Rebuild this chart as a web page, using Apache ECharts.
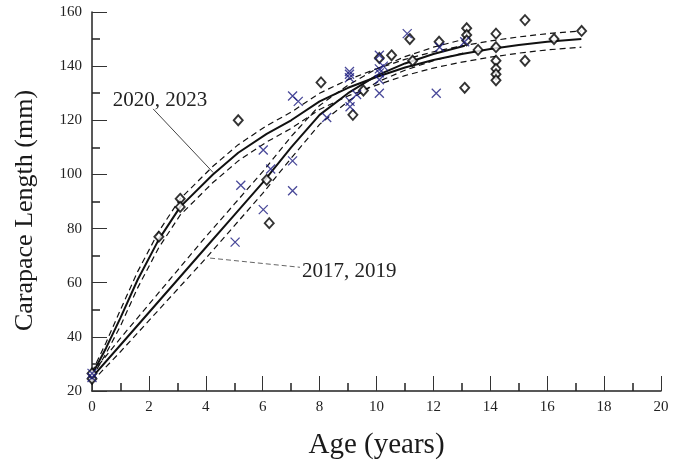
<!DOCTYPE html>
<html>
<head>
<meta charset="utf-8">
<script src="https://cdn.jsdelivr.net/npm/echarts@6/dist/echarts.min.js"></script>
<style>
  html, body { margin: 0; padding: 0; background: #fff; }
  #chart { width: 689px; height: 465px; }
</style>
</head>
<body>
<div id="chart"></div>
<script>
// observed ages / lengths, 2020 + 2023 (diamonds)
const ageDiamond = [0, 0, 2.35, 3.1, 3.1, 5.14, 6.14, 6.23, 8.05, 9.17, 9.54, 10.1, 10.53, 11.17, 11.27, 12.2, 13.1, 13.17, 13.17, 13.17, 13.57, 14.2, 14.2, 14.2, 14.2, 14.2, 14.2, 15.22, 15.22, 16.24, 17.21];
const lenDiamond = [24.5, 26.5, 77, 91, 88, 120, 98, 82, 134, 122, 131, 143, 144, 150, 142, 149, 132, 154, 151.5, 149.5, 146, 152, 147, 142, 139, 137, 134.8, 157, 142, 150, 153];

// observed ages / lengths, 2017 + 2019 (crosses)
const ageCross = [0, 0, 5.03, 5.23, 6.02, 6.02, 6.28, 7.05, 7.05, 7.05, 7.25, 8.25, 9.05, 9.05, 9.05, 9.07, 9.07, 9.3, 10.1, 10.1, 10.1, 10.1, 10.1, 10.24, 11.08, 12.1, 12.22, 13.1];
const lenCross = [25, 26.5, 75, 96, 109, 87, 102, 129, 105, 94, 127, 121, 138, 137, 135.7, 127, 125, 129.5, 144, 139, 137.5, 135, 130, 140, 152, 130, 147, 149];

// fitted curve 2020, 2023 and its band
const ageFitA = [0, 0.5, 1, 1.6, 2.35, 3.1, 4.25, 5.14, 6.14, 7, 8, 9, 10, 11, 12, 13, 14, 15, 16, 17.2];
const fitA = [26, 36, 47, 61, 76, 88, 100, 108, 115, 120, 127, 132, 136, 139.5, 142.3, 144.5, 146.3, 147.8, 149, 150];
const upA = [27, 38, 50, 64, 79, 91, 103, 111, 118, 123, 130, 135, 139, 142.5, 145.3, 147.5, 149.3, 150.8, 152, 153];
const loA = [25, 34, 44, 58, 73, 85, 97, 105, 112, 117, 124, 129, 133, 136.5, 139.3, 141.5, 143.3, 144.8, 146, 147];

// fitted curve 2017, 2019 and its band
const ageFitB = [0, 1, 2, 3, 4, 5, 6, 7, 8, 9, 10, 11, 12, 13.1];
const fitB = [25, 37, 49, 61, 73, 85, 97, 110, 122, 130, 136.5, 141, 144.5, 147.5];
const upB = [26.5, 39.5, 52, 64.5, 77, 89, 101, 114, 125.5, 133, 139, 143.5, 147, 150];
const loB = [23.5, 34.5, 46, 57.5, 69, 81, 93, 106, 118.5, 127, 134, 138.5, 142, 145];

const xTicks = [0, 2, 4, 6, 8, 10, 12, 14, 16, 18, 20];
const yTicks = [20, 40, 60, 80, 100, 120, 140, 160];

const zip = (xs, ys) => xs.map((x, i) => [x, ys[i]]);

const chart = echarts.init(document.getElementById('chart'));

const serif = '"Liberation Serif", "DejaVu Serif", serif';

const lineSeries = (name, xs, ys, dashed) => ({
  name: name,
  type: 'line',
  data: zip(xs, ys),
  showSymbol: false,
  smooth: false,
  silent: true,
  z: 2,
  lineStyle: dashed
    ? { color: '#111', width: 1.2, type: [6, 4] }
    : { color: '#111', width: 2 }
});

const option = {
  animation: false,
  backgroundColor: '#fff',
  grid: { left: 92, right: 28, top: 12, bottom: 72 },
  xAxis: {
    type: 'value',
    min: 0,
    max: 20,
    interval: 2,
    name: 'Age (years)',
    nameLocation: 'middle',
    nameGap: 40,
    nameTextStyle: { fontFamily: serif, fontSize: 29, color: '#1a1a1a' },
    axisLine: { lineStyle: { color: '#222', width: 1.5 } },
    axisTick: { inside: true, length: 15, lineStyle: { color: '#333', width: 1 } },
    minorTick: { show: true, splitNumber: 2, length: 8, lineStyle: { color: '#222', width: 1.5 } },
    axisLabel: {
      fontFamily: serif, fontSize: 15, color: '#222', margin: 9,
      formatter: v => xTicks.includes(v) ? String(v) : ''
    },
    splitLine: { show: false }
  },
  yAxis: {
    type: 'value',
    min: 20,
    max: 160,
    interval: 20,
    name: 'Carapace Length (mm)',
    nameLocation: 'middle',
    nameGap: 54,
    nameRotate: 90,
    nameTextStyle: { fontFamily: serif, fontSize: 26, color: '#1a1a1a', padding: [0, 18, 0, 0] },
    axisLine: { show: true, lineStyle: { color: '#222', width: 1.5 } },
    axisTick: { show: true, inside: true, length: 15, lineStyle: { color: '#333', width: 1 } },
    minorTick: { show: true, splitNumber: 2, length: 8, lineStyle: { color: '#222', width: 1.5 } },
    axisLabel: {
      fontFamily: serif, fontSize: 15, color: '#222', margin: 10,
      formatter: v => yTicks.includes(v) ? String(v) : ''
    },
    splitLine: { show: false }
  },
  series: [
    lineSeries('2020, 2023', ageFitA, fitA, false),
    lineSeries('2020, 2023 upper', ageFitA, upA, true),
    lineSeries('2020, 2023 lower', ageFitA, loA, true),
    lineSeries('2017, 2019', ageFitB, fitB, false),
    lineSeries('2017, 2019 upper', ageFitB, upB, true),
    lineSeries('2017, 2019 lower', ageFitB, loB, true),
    {
      name: '2020, 2023 obs',
      type: 'scatter',
      data: zip(ageDiamond, lenDiamond),
      symbol: 'diamond',
      symbolSize: [9, 10],
      z: 4,
      itemStyle: { color: '#fff', borderColor: '#000', borderWidth: 1.9 }
    },
    {
      name: '2017, 2019 obs',
      type: 'scatter',
      data: zip(ageCross, lenCross),
      symbol: 'path://M0,0L10,10M10,0L0,10',
      symbolSize: 9,
      z: 5,
      itemStyle: { color: 'transparent', borderColor: '#1c1c80', borderWidth: 1.3 }
    }
  ]
};

chart.setOption(option);

// callouts, anchored in data units
const px = (a, l) => chart.convertToPixel({ gridIndex: 0 }, [a, l]);
const labelA = px(0.87, 128.4);
const fromA = px(2.15, 124.2), toA = px(4.26, 100.7);
const labelB = px(7.49, 65.6);
const fromB = px(4.15, 69.1), toB = px(7.31, 65.7);

chart.setOption({
  graphic: [
    {
      type: 'text', left: labelA[0] - 4, top: labelA[1] - 8,
      style: { text: '2020, 2023', font: '21px ' + serif, fill: '#222' }
    },
    {
      type: 'line', shape: { x1: fromA[0], y1: fromA[1], x2: toA[0], y2: toA[1] },
      style: { stroke: '#444', lineWidth: 1 }
    },
    {
      type: 'text', left: labelB[0] - 3, top: labelB[1] - 7,
      style: { text: '2017, 2019', font: '21px ' + serif, fill: '#222' }
    },
    {
      type: 'line', shape: { x1: fromB[0], y1: fromB[1], x2: toB[0], y2: toB[1] },
      style: { stroke: '#666', lineWidth: 1, lineDash: [5, 3] }
    }
  ]
});
</script>
</body>
</html>
